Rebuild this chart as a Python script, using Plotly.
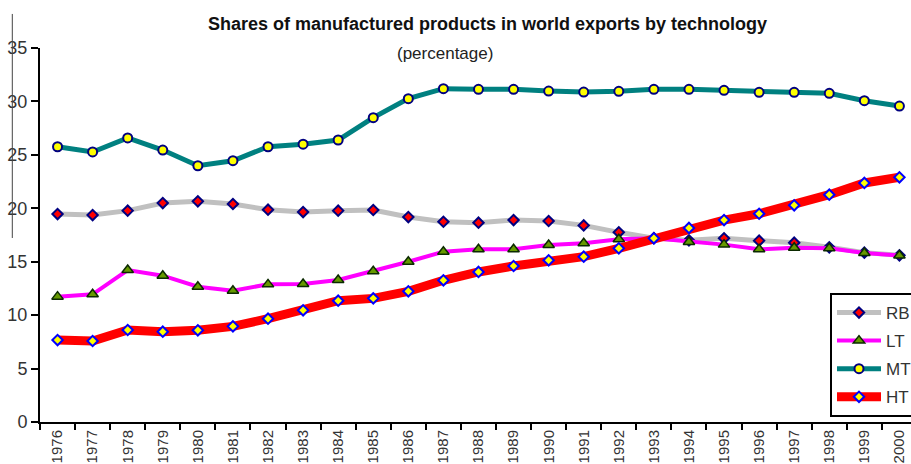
import plotly.graph_objects as go

years = ["1976", "1977", "1978", "1979", "1980", "1981", "1982", "1983", "1984",
         "1985", "1986", "1987", "1988", "1989", "1990", "1991", "1992", "1993",
         "1994", "1995", "1996", "1997", "1998", "1999", "2000"]

RB = [19.46, 19.37, 19.78, 20.49, 20.65, 20.40, 19.87, 19.65, 19.78, 19.84, 19.18, 18.74,
      18.65, 18.90, 18.81, 18.40, 17.75, 17.20, 17.00, 17.19, 16.97, 16.78, 16.35, 15.85, 15.60]
LT = [11.73, 11.95, 14.22, 13.69, 12.66, 12.29, 12.88, 12.91, 13.29, 14.10, 15.00, 15.94,
      16.16, 16.16, 16.56, 16.72, 17.10, 17.19, 16.85, 16.60, 16.16, 16.31, 16.25, 15.82, 15.58]
MT = [25.76, 25.27, 26.58, 25.45, 23.98, 24.45, 25.76, 26.00, 26.39, 28.48, 30.26, 31.19,
      31.13, 31.13, 30.97, 30.88, 30.95, 31.13, 31.13, 31.04, 30.85, 30.85, 30.76, 30.07, 29.57]
HT = [7.67, 7.58, 8.61, 8.45, 8.58, 8.95, 9.67, 10.45, 11.35, 11.57, 12.23, 13.26,
      14.04, 14.60, 15.13, 15.47, 16.25, 17.19, 18.16, 18.90, 19.49, 20.28, 21.27, 22.37, 22.90]

FONT = "Liberation Sans, Arial, sans-serif"

fig = go.Figure()
fig.add_trace(go.Scatter(
    x=years, y=RB, name="RB", mode="lines+markers", legendgroup="RB",
    line=dict(color="#C0C0C0", width=5),
    marker=dict(symbol="diamond", size=8, color="#FF0000", line=dict(color="#000080", width=2))))
fig.add_trace(go.Scatter(
    x=years, y=LT, name="LT", mode="lines+markers", legendgroup="LT",
    line=dict(color="#FF00FF", width=4),
    marker=dict(symbol="triangle-up", size=10, color="#669900", line=dict(color="#0B2A00", width=1.5))))
fig.add_trace(go.Scatter(
    x=years, y=MT, name="MT", mode="lines+markers", legendgroup="MT",
    line=dict(color="#008080", width=5),
    marker=dict(symbol="circle", size=9, color="#FFFF00", line=dict(color="#000080", width=2))))
fig.add_trace(go.Scatter(
    x=years, y=HT, name="HT", mode="lines+markers", legendgroup="HT",
    line=dict(color="#FF0000", width=9),
    marker=dict(symbol="diamond", size=8, color="#FFFF00", line=dict(color="#0000FF", width=2))))

fig.update_layout(
    width=911, height=464,
    margin=dict(l=40, r=0, t=48, b=42, autoexpand=False),
    paper_bgcolor="white", plot_bgcolor="white",
    font=dict(family=FONT, size=18, color="#333333"),
    showlegend=True,
    legend=dict(x=0.907, y=0.345, xanchor="left", yanchor="top",
                bordercolor="black", borderwidth=2, bgcolor="white",
                font=dict(family=FONT, size=17, color="#333333"),
                tracegroupgap=3, itemwidth=44),
    xaxis=dict(type="category", range=[-0.5, 24.33], tickangle=-90,
               tickson="boundaries", ticks="outside", ticklen=6, tickwidth=2,
               tickcolor="black", showline=True, linewidth=2, linecolor="black",
               showgrid=False, zeroline=False, automargin=False, ticklabelstandoff=0,
               tickfont=dict(family=FONT, size=15, color="#333333")),
    yaxis=dict(range=[0, 35], dtick=5, ticks="outside", ticklen=7, tickwidth=2,
               tickcolor="black", showline=True, linewidth=2, linecolor="black",
               showgrid=False, zeroline=False, automargin=False,
               tickfont=dict(family=FONT, size=18, color="#333333")),
    annotations=[
        dict(text="<b>Shares of manufactured products in world exports by technology</b>",
             x=0.514, y=1.063, xref="paper", yref="paper", xanchor="center", yanchor="middle",
             showarrow=False, font=dict(family=FONT, size=18, color="#111111")),
        dict(text="(percentage)",
             x=0.465, y=0.985, xref="paper", yref="paper", xanchor="center", yanchor="middle",
             showarrow=False, font=dict(family=FONT, size=17, color="#222222")),
    ],
    shapes=[dict(type="line", xref="paper", yref="paper", x0=-0.0318, x1=-0.0318,
                 y0=0.492, y1=1.091, line=dict(color="#444444", width=1))],
)

fig.write_html("out.html")
